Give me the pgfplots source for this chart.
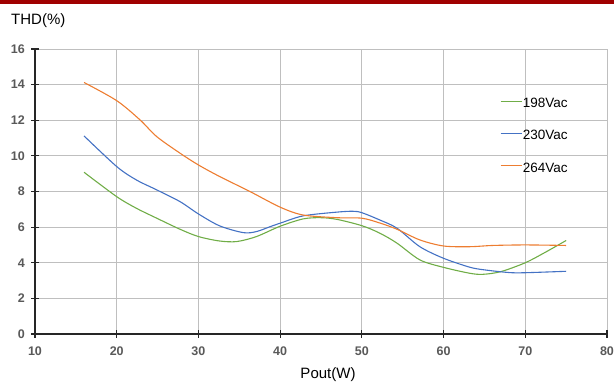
\documentclass[border=0pt]{standalone}
\usepackage{pgfplots}
\pgfplotsset{compat=1.18}
\usepackage{fontspec}
\setmainfont{Liberation Sans}
\definecolor{gA}{RGB}{112,173,71}
\definecolor{bA}{RGB}{68,114,196}
\definecolor{oA}{RGB}{237,125,49}
\definecolor{gridc}{RGB}{191,191,191}
\definecolor{tickc}{RGB}{89,89,89}
\definecolor{barred}{RGB}{160,0,0}
\begin{document}
\begin{tikzpicture}[x=1pt,y=1pt]
\path[use as bounding box] (0,0) rectangle (614,382);
\fill[barred] (0,377.5) rectangle (614,382);
\begin{axis}[
  at={(35pt,48pt)}, anchor=south west,
  scale only axis, width=572pt, height=285pt,
  xmin=10, xmax=80, ymin=0, ymax=16,
  xtick={10,20,...,80}, ytick={0,2,...,16},
  axis x line=bottom, axis y line=left,
  axis line style={black!85, line width=1.1pt, -},
  grid=major, major grid style={gridc, line width=0.9pt},
  tick align=center, major tick length=8pt,
  tick style={black!85, line width=1.1pt},
  /pgf/number format/assume math mode=true,
  ticklabel style={font=\fontsize{12.5}{14}\selectfont\bfseries, text=tickc},
  xticklabel style={anchor=north, inner sep=0pt, yshift=-8.5pt},
  yticklabel style={anchor=east, inner sep=0pt, xshift=-6pt},
  legend style={draw=none, fill=none, inner sep=0pt, at={(axis cs:66.9,13.25)}, anchor=north west,
    font=\fontsize{13.5}{15}\selectfont, row sep=19.7pt,
    nodes={inner sep=0pt, text height=9.5pt, text depth=3pt},
    /tikz/every even column/.append style={column sep=4.5pt}},
  legend cell align=left,
  legend image code/.code={\draw[#1] (0pt,3.2pt) -- (21.5pt,3.2pt);},
]
\addlegendimage{gA, line width=1.1pt}
\addlegendentry{198Vac}
\addlegendimage{bA, line width=1.1pt}
\addlegendentry{230Vac}
\addlegendimage{oA, line width=1.1pt}
\addlegendentry{264Vac}
\addplot[gA, line width=1.1pt, smooth, tension=0.5, forget plot] coordinates {(16,9.08)(20,7.71)(22.4,7.06)(24.9,6.5)(27.75,5.88)(30,5.47)(32.6,5.22)(34.7,5.19)(37.1,5.47)(40,6.05)(42.8,6.46)(44.9,6.53)(46.9,6.44)(50,6.08)(52.2,5.66)(54.3,5.1)(57.1,4.16)(60,3.74)(63.2,3.41)(64.8,3.35)(67,3.5)(70,4.0)(72.5,4.6)(75,5.25)};
\addplot[bA, line width=1.1pt, smooth, tension=0.5, forget plot] coordinates {(16,11.12)(20,9.4)(22.4,8.65)(24.9,8.09)(27.75,7.43)(30,6.74)(32.6,6.07)(35.5,5.69)(37.1,5.75)(38.8,6.03)(40,6.22)(42.8,6.63)(46.9,6.84)(48.9,6.89)(50,6.81)(52.2,6.4)(54.3,5.94)(57.1,4.9)(60,4.25)(63.2,3.75)(65,3.6)(68,3.45)(70,3.44)(75,3.52)};
\addplot[oA, line width=1.1pt, smooth, tension=0.5, forget plot] coordinates {(16,14.12)(20,13.1)(22.85,12.02)(24.9,11.08)(27.75,10.15)(30,9.49)(32.6,8.84)(36.3,8.0)(40,7.12)(42.8,6.68)(46.9,6.53)(50,6.5)(52.2,6.23)(54.3,5.88)(57.1,5.28)(60,4.94)(63.2,4.9)(66,4.97)(70,5.0)(75,4.97)};
\end{axis}
\node[anchor=base west, inner sep=0pt, font=\fontsize{15}{17}\selectfont] at (11,357) {THD(\%)};
\node[anchor=base, inner sep=0pt, font=\fontsize{15}{17}\selectfont] at (328,3) {Pout(W)};
\end{tikzpicture}
\end{document}
